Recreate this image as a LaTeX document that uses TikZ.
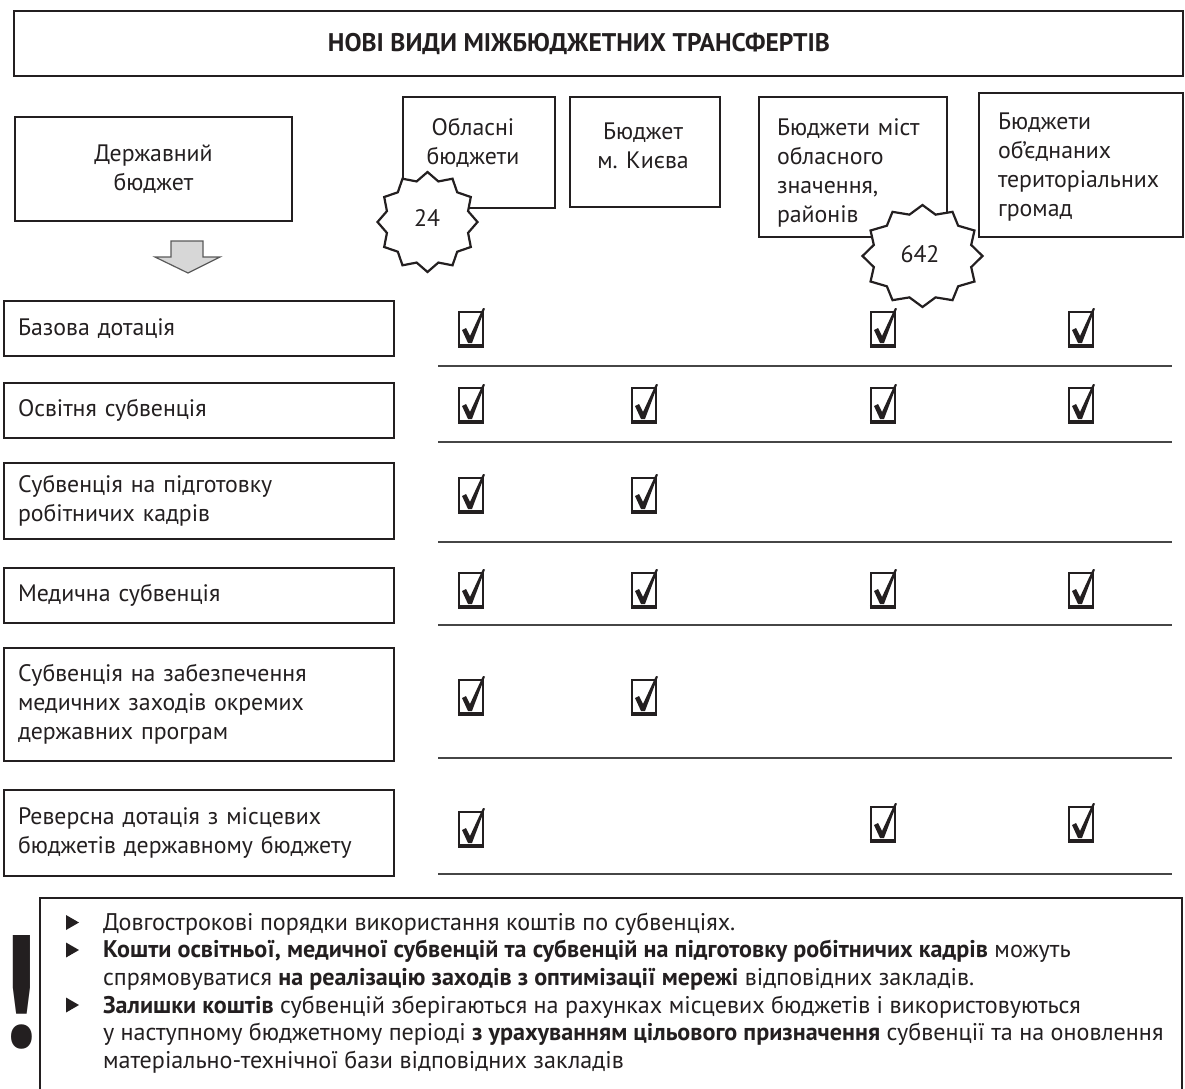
\documentclass[tikz,border=0pt]{standalone}
\usepackage{fontspec}
\usepackage{graphicx}
\setmainfont{PT Sans}
\definecolor{ink}{RGB}{35,31,32}
\definecolor{rule}{RGB}{70,70,70}
\definecolor{arrowfill}{RGB}{215,215,215}
\definecolor{arrowline}{RGB}{90,90,90}
\begin{document}
\begin{tikzpicture}[x=1pt,y=-1pt,
  every node/.style={text=ink, inner sep=0pt, outer sep=0pt},
  txt/.style={font=\fontsize{23.8}{29}\selectfont},
  box/.style={draw=ink, line width=2.4pt, txt},
  rowbox/.style={box, anchor=north west, minimum width=390pt, text width=362pt, inner xsep=14pt, align=left},
  sepline/.style={draw=rule, line width=1.8pt},
  starst/.style={draw=ink, line width=2.2pt, fill=white, line join=miter},
  bul/.style={font=\fontsize{24.1}{29}\selectfont, anchor=base west},
  chk/.pic={
    \draw[draw=ink, line width=2.2pt] (-12,-17) rectangle (12,17);
    \draw[draw=ink, line width=4pt] (-13.1,17) -- (13.1,17);
    \fill[ink] (-9,1) -- (-5,-1) -- (-1,7) -- (12,-21) -- (14,-20.5) -- (1,14) -- (-3,14) -- cycle;
  }]
\useasboundingbox (0,0) rectangle (1185,1088);
\clip (0,0) rectangle (1185,1088);

% title
\node[box, anchor=north west, minimum width=1169pt, minimum height=65pt] (title) at (14,11) {};
\node[font=\fontsize{25.5}{29}\selectfont\bfseries] (titlet) at (579,44) {НОВІ ВИДИ МІЖБЮДЖЕТНИХ ТРАНСФЕРТІВ};

% column headers
\node[box, anchor=north west, minimum width=277pt, minimum height=104pt, align=center] (state) at (15,117) {Державний\\бюджет};
\node[box, anchor=north west, minimum width=152pt, minimum height=111pt] (obl) at (403,97) {};
\node[txt, align=center] (oblt) at (473,143) {Обласні\\бюджети};
\node[box, anchor=north west, minimum width=150pt, minimum height=110pt] (kyiv) at (570,97) {};
\node[txt, align=center] (kyivt) at (643,146) {Бюджет\\м. Києва};
\node[box, anchor=north west, minimum width=188pt, minimum height=140pt] (cities) at (759,97) {};
\node[txt, anchor=west, text width=160pt, align=left] (citiest) at (777,173) {Бюджети міст\\обласного\\значення,\\районів};
\node[box, anchor=north west, minimum width=204pt, minimum height=144pt] (otg) at (979,93) {};
\node[txt, anchor=west, text width=180pt, align=left] (otgt) at (998,167) {Бюджети\\об’єднаних\\територіальних\\громад};

% stars
\draw[starst, shift={(427.5,222)}] plot[samples at={0,...,23}, variable=\k] ({50*(0.92+0.08*cos(180*\k))*cos(90+15*\k)}, {50*(0.92+0.08*cos(180*\k))*sin(90+15*\k)}) -- cycle;
\node[txt] (n24) at (427,218) {24};
\draw[starst, shift={(922.5,256)}] plot[samples at={0,...,23}, variable=\k] ({60*(0.92+0.08*cos(180*\k))*cos(90+15*\k)}, {51*(0.92+0.08*cos(180*\k))*sin(90+15*\k)}) -- cycle;
\node[txt] (n642) at (920,254) {642};

% block arrow
\draw[fill=arrowfill, draw=arrowline, line width=1.2pt, line join=miter] (171,241) -- (203,241) -- (203,257) -- (220,257) -- (188,273) -- (155,257) -- (171,257) -- cycle;

% row labels
\node[rowbox, minimum height=55pt] (r1) at (4,301) {Базова дотація};
\node[rowbox, minimum height=55pt] (r2) at (4,383) {Освітня субвенція};
\node[rowbox, minimum height=76pt] (r3) at (4,463) {Субвенція на підготовку\\робітничих кадрів};
\node[rowbox, minimum height=55pt] (r4) at (4,568) {Медична субвенція};
\node[rowbox, minimum height=113pt] (r5) at (4,648) {Субвенція на забезпечення\\медичних заходів окремих\\державних програм};
\node[rowbox, minimum height=86pt] (r6) at (4,790) {Реверсна дотація з місцевих\\бюджетів державному бюджету};

% separator lines
\foreach \yy in {366,442,542,625,758,874} \draw[sepline] (438,\yy) -- (1172,\yy);

% check marks
\pic (c11) at (471,329) {chk};
\pic (c13) at (883,329) {chk};
\pic (c14) at (1081,329) {chk};
\pic (c21) at (471,405) {chk};
\pic (c22) at (644,405) {chk};
\pic (c23) at (883,405) {chk};
\pic (c24) at (1081,405) {chk};
\pic (c31) at (471,495) {chk};
\pic (c32) at (644,495) {chk};
\pic (c41) at (471,590) {chk};
\pic (c42) at (644,590) {chk};
\pic (c43) at (883,590) {chk};
\pic (c44) at (1081,590) {chk};
\pic (c51) at (471,697) {chk};
\pic (c52) at (644,697) {chk};
\pic (c61) at (471,829) {chk};
\pic (c63) at (883,824) {chk};
\pic (c64) at (1081,824) {chk};

% bottom note box
\coordinate (nbl) at (40,1100);
\coordinate (ntr) at (1182,898);
\draw[draw=ink, line width=2.4pt] (nbl) |- (ntr) -- (1182,1100);
\node[font=\fontsize{160}{160}\selectfont\bfseries] (excl) at (19,992) {\makebox[30pt]{\scalebox{0.8}[1]{!}}};

% bullets
\foreach \yy in {922.5,950,1005} \fill[ink] (66,\yy-7.5) -- (79,\yy) -- (66,\yy+7.5) -- cycle;
\node[bul] (b1) at (103,930) {Довгострокові порядки використання коштів по субвенціях.};
\node[bul] (b2) at (103,957.5) {\textbf{Кошти освітньої, медичної субвенцій та субвенцій на підготовку робітничих кадрів} можуть};
\node[bul] (b3) at (103,985) {спрямовуватися \textbf{на реалізацію заходів з оптимізації мережі} відповідних закладів.};
\node[bul] (b4) at (103,1013) {\textbf{Залишки коштів} субвенцій зберігаються на рахунках місцевих бюджетів і використовуються};
\node[bul] (b5) at (103,1040) {у наступному бюджетному періоді \textbf{з урахуванням цільового призначення} субвенції та на оновлення};
\node[bul] (b6) at (103,1068) {матеріально-технічної бази відповідних закладів};
\end{tikzpicture}
\end{document}
